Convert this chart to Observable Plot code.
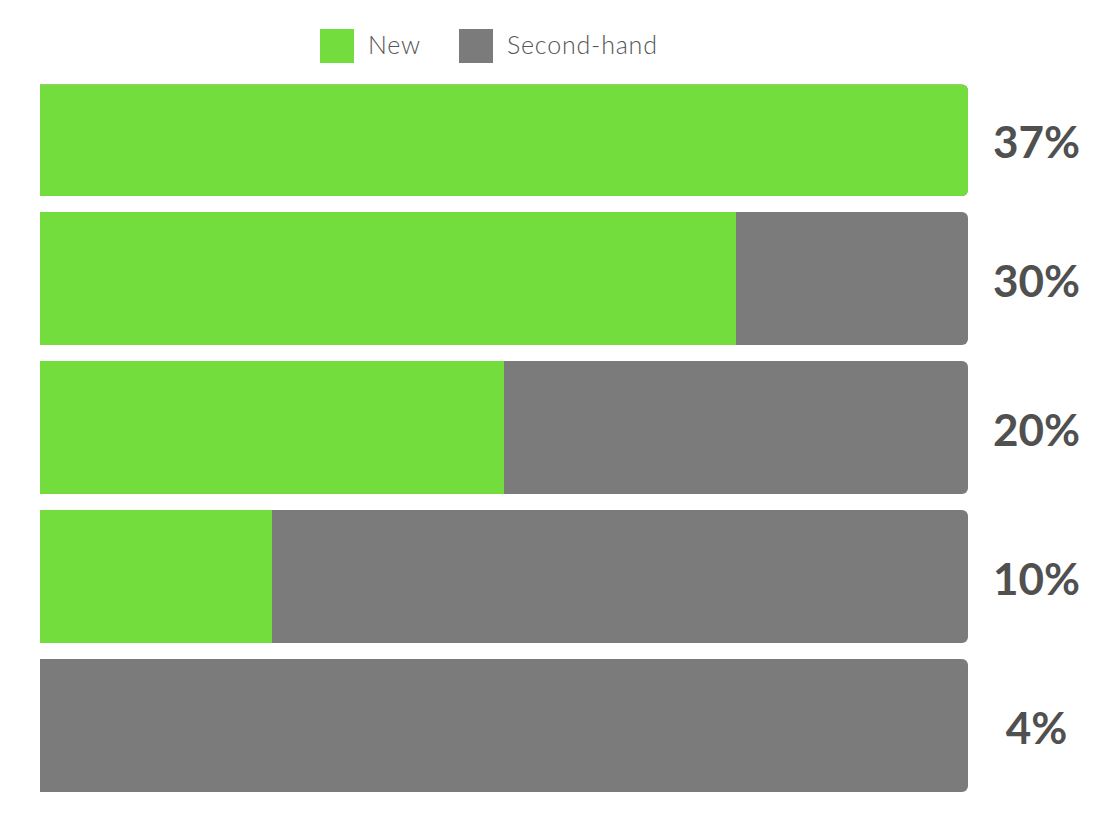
<!DOCTYPE html>
<html>
<head>
<meta charset="utf-8">
<script src="https://cdn.jsdelivr.net/npm/d3@7"></script>
<script src="https://cdn.jsdelivr.net/npm/@observablehq/plot@0.6"></script>
<style>
  body { margin: 0; background: #fff; font-family: "Lato", "Open Sans", sans-serif; }
  #legend { display: flex; justify-content: flex-start; align-items: center; height: 34px; padding-top: 29px; padding-left: 320px; }
  .sw { width: 34px; height: 34px; display: inline-block; }
  .lab { font-size: 25px; color: #555; font-weight: 300; margin-left: 14px; margin-right: 38px; letter-spacing: 0.8px; position: relative; top: -2px; }
</style>
</head>
<body>
<div id="legend"></div>
<div id="chart"></div>
<script>
const rowLabels = ["37%", "30%", "20%", "10%", "4%"];
const newShare = [100, 75, 50, 25, 0];
const secondShare = [0, 25, 50, 75, 100];
const seriesNames = ["New", "Second-hand"];
const seriesColors = ["#72DD3D", "#7B7B7B"];

const rows = rowLabels.map((label, i) => ({
  label, newV: newShare[i], second: secondShare[i], total: newShare[i] + secondShare[i], first: i === 0
}));

const legend = document.getElementById("legend");
seriesNames.forEach((n, i) => {
  const s = document.createElement("span"); s.className = "sw"; s.style.background = seriesColors[i];
  const t = document.createElement("span"); t.className = "lab"; t.textContent = n;
  legend.appendChild(s); legend.appendChild(t);
});

function split(mark, data, opts, firstExtra) {
  return [
    mark(data.filter(d => d.first), {...opts, ...firstExtra}),
    mark(data.filter(d => !d.first), opts)
  ];
}

const labelOpts = {
  y: "label", x: "total", text: "label", dx: 68,
  textAnchor: "middle", fontSize: 44, fontWeight: "bold", fill: "#505050",
  fontFamily: "Lato, sans-serif"
};

const chart = Plot.plot({
  width: 1115,
  height: 751,
  marginLeft: 40,
  marginRight: 147,
  marginTop: 0,
  marginBottom: 22,
  x: { domain: [0, 100], axis: null },
  y: { domain: rowLabels, axis: null, paddingInner: 0.11, paddingOuter: 0 },
  marks: [
    ...split(Plot.barX, rows, { y: "label", x1: 0, x2: "total", fill: seriesColors[1], rx: 6, insetLeft: -12, clip: true }, {insetTop: 21.5}),
    ...split(Plot.barX, rows.filter(d => d.newV === d.total), { y: "label", x1: 0, x2: "newV", fill: seriesColors[0], rx: 6, insetLeft: -12, clip: true }, {insetTop: 21.5}),
    ...split(Plot.barX, rows.filter(d => d.newV > 0 && d.newV < d.total), { y: "label", x1: 0, x2: "newV", fill: seriesColors[0] }, {insetTop: 21.5}),
    Plot.text(rows.filter(d => d.first), {...labelOpts, dy: 14}),
    Plot.text(rows.filter(d => !d.first), {...labelOpts, dy: 4})
  ]
});
document.getElementById("chart").appendChild(chart);
</script>
</body>
</html>
